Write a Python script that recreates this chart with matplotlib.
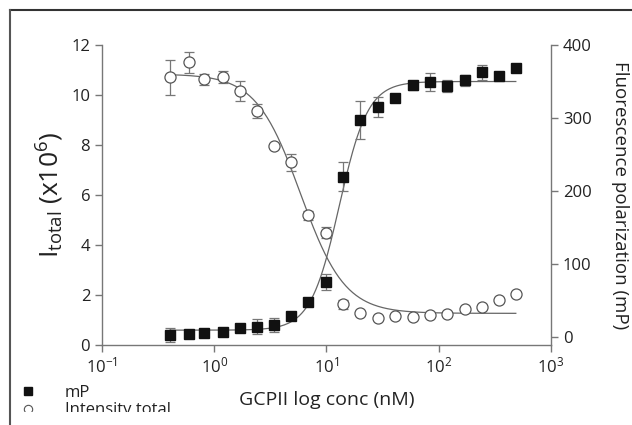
import numpy as np
import matplotlib
matplotlib.use("Agg")
import matplotlib.pyplot as plt
from matplotlib.lines import Line2D
from matplotlib.patches import Rectangle

plt.rcParams['font.family'] = ['Open Sans', 'DejaVu Sans']
plt.rcParams['mathtext.fontset'] = 'custom'
plt.rcParams['mathtext.rm'] = 'Open Sans'
plt.rcParams['mathtext.it'] = 'Open Sans'

# GCPII concentration (nM)
conc = [0.403, 0.596, 0.809, 1.195, 1.69, 2.40, 3.40, 4.82, 6.83, 9.88, 14.0,
        19.8, 28.7, 40.6, 58.8, 83.3, 118, 171, 242, 343, 486]

# fluorescence polarization (mP), right axis
mp = [2.3, 3.3, 4.6, 6.4, 12.3, 13.7, 16, 28.3, 47, 75, 219.5, 297.4, 314.7,
      327, 344.8, 349.3, 343.9, 351.6, 362.5, 357.5, 369]
mp_err = [9.8, 3, 0, 0, 0, 10, 10, 0, 0, 11, 20, 26, 14, 0, 6, 12, 8, 8, 10.5, 0, 0]

# total intensity (x10^6), left axis
itot = [10.71, 11.31, 10.63, 10.72, 10.17, 9.36, 7.96, 7.31, 5.2, 4.49, 1.63,
        1.28, 1.07, 1.16, 1.11, 1.19, 1.23, 1.43, 1.52, 1.81, 2.03]
itot_err = [0.69, 0.42, 0.23, 0.25, 0.40, 0.27, 0, 0.33, 0.18, 0.22, 0.17,
            0, 0, 0, 0, 0, 0, 0, 0, 0, 0]

# 4PL fit parameters (bottom, top, ec50, hill)
mp_fit = (9.0, 350.0, 13.0, 3.4)
it_fit = (1.27, 10.84, 5.87, 2.2)

gray = '#777777'
dark = '#222222'

fig = plt.figure(figsize=(6.32, 4.25), dpi=100)
ax = fig.add_axes([0.1614, 0.188, 0.7104, 0.706])
ax2 = ax.twinx()

xs = np.logspace(np.log10(conc[0]), np.log10(conc[-1]), 300)
b, t, c, h = it_fit
ax.plot(xs, b + (t - b) / (1 + (xs / c) ** h), color='#666666', lw=0.9)
ax.errorbar(conc, itot, yerr=itot_err, fmt='o', ms=8, mfc='white', mec='#555555',
            mew=0.9, ecolor=gray, elinewidth=0.9, capsize=3.5, capthick=0.9)

b, t, c, h = mp_fit
ax2.plot(xs, b + (t - b) / (1 + (c / xs) ** h), color='#666666', lw=0.9)
ax2.errorbar(conc, mp, yerr=mp_err, fmt='s', ms=6.5, mfc='#111111', mec='#111111',
             ecolor=gray, elinewidth=0.9, capsize=3.5, capthick=0.9)

ax.set_xscale('log')
ax.set_xlim(0.1, 1000)
ax.set_ylim(0, 12)
ax2.set_ylim(-11.5, 400)
ax.set_xticks([0.1, 1, 10, 100, 1000])
ax.set_xticklabels(['10$^{-1}$', '10$^{0}$', '10$^{1}$', '10$^{2}$', '10$^{3}$'])
ax.xaxis.set_minor_locator(matplotlib.ticker.NullLocator())
ax.set_yticks(range(0, 13, 2))
ax2.set_yticks(range(0, 401, 100))

for a in (ax, ax2):
    a.spines['top'].set_visible(False)
    for s in a.spines.values():
        s.set_color(gray)
        s.set_linewidth(1.0)
    a.tick_params(colors=gray, labelcolor=dark, labelsize=12, length=5, width=1.0)
ax.spines['right'].set_visible(False)
ax2.spines['left'].set_visible(False)
ax2.spines['bottom'].set_visible(False)

ax.set_xlabel('GCPII log conc (nM)', fontsize=14, color=dark, labelpad=10)
ax.set_ylabel(r'I$_{\rm total}$ (x10$^6$)', fontsize=19, color=dark, labelpad=4)
ax2.set_ylabel('Fluorescence polarization (mP)', fontsize=13.5, color=dark,
               rotation=270, labelpad=27)

handles = [Line2D([], [], ls='none', marker='s', ms=6, mfc='#111111', mec='#111111'),
           Line2D([], [], ls='none', marker='o', ms=6, mfc='white', mec='#555555', mew=0.8)]
fig.legend(handles, ['mP', 'Intensity total'], loc='upper left',
           bbox_to_anchor=(0.005, 0.13), frameon=False, fontsize=12,
           handlelength=1.2, handletextpad=1.6, labelspacing=0.1,
           labelcolor=dark)

# cropped frame of the original figure
fig.add_artist(Rectangle((12 / 632, 0), 1, 13 / 425, transform=fig.transFigure,
                         facecolor='white', edgecolor='none', zorder=10))
fig.add_artist(Line2D([10 / 632, 1], [1 - 10 / 425, 1 - 10 / 425],
                      transform=fig.transFigure, color='#333333', lw=1.5, zorder=11))
fig.add_artist(Line2D([10 / 632, 10 / 632], [0, 1 - 10 / 425],
                      transform=fig.transFigure, color='#555555', lw=1.5, zorder=11))

fig.savefig('out.png', dpi=100)
